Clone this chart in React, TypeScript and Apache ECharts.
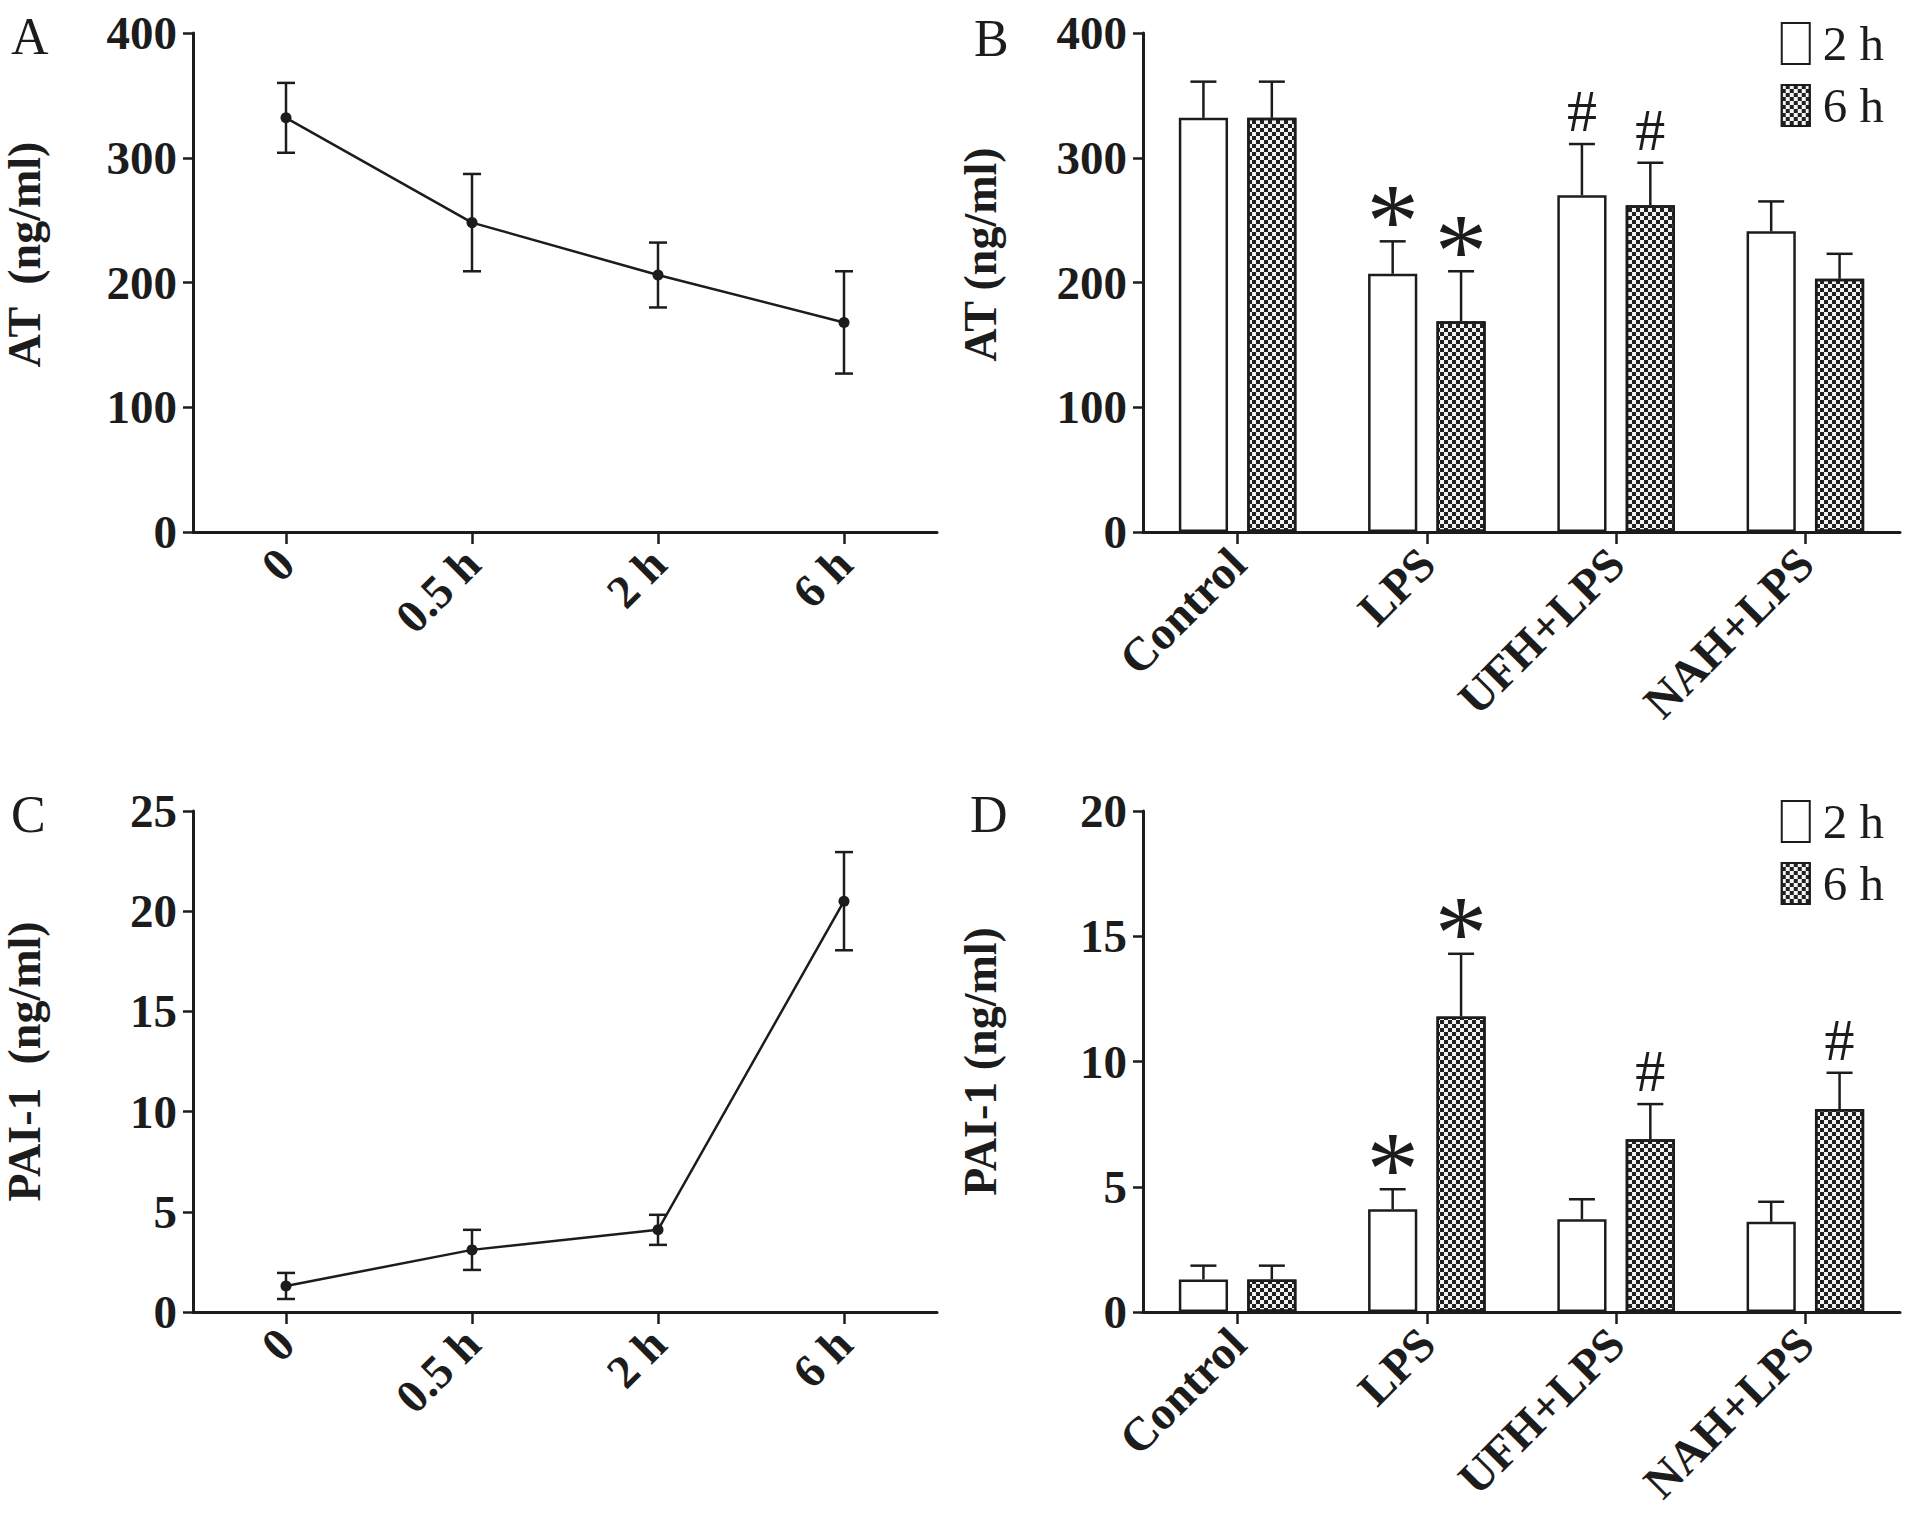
import * as echarts from "echarts";
import { useEffect, useRef } from "react";

const timePoints = ["0", "0.5 h", "2 h", "6 h"];
const groups = ["Control", "LPS", "UFH+LPS", "NAH+LPS"];

// panel A: AT over time
const atMean = [332, 248, 206, 168];
const atSd = [28, 39, 26, 41];
// panel C: PAI-1 over time
const paiMean = [1.3, 3.1, 4.1, 20.5];
const paiSd = [0.65, 1.0, 0.75, 2.45];

// panel B: AT by group
const atBar2h = [332, 207, 270, 241];
const atBar2hSd = [29, 26, 41, 24];
const atBar6h = [332, 169, 262, 203];
const atBar6hSd = [29, 40, 34, 20];
const atMarks2h = ["", "*", "#", ""];
const atMarks6h = ["", "*", "#", ""];

// panel D: PAI-1 by group
const paiBar2h = [1.3, 4.1, 3.7, 3.6];
const paiBar2hSd = [0.55, 0.8, 0.8, 0.8];
const paiBar6h = [1.3, 11.8, 6.9, 8.1];
const paiBar6hSd = [0.55, 2.5, 1.4, 1.45];
const paiMarks2h = ["", "*", "", ""];
const paiMarks6h = ["", "*", "#", "#"];

const FONT = '"Liberation Serif", "Times New Roman", serif';
const INK = "#1c1c1c";

const BAR_W = 0.26;
const BAR_GAP = 0.39;

const decal6h = {
  symbol: "rect",
  symbolSize: 1,
  color: "#202020",
  dashArrayX: [
    [4, 4],
    [0, 4, 4, 0],
  ],
  dashArrayY: [4, 0],
  rotation: 0,
};

function lineErrors(mean: number[], sd: number[], axis: number) {
  return {
    type: "custom",
    xAxisIndex: axis,
    yAxisIndex: axis,
    z: 3,
    silent: true,
    data: mean.map((m, i) => [i, m - sd[i], m + sd[i]]),
    renderItem: (_p: any, api: any) => {
      const lo = api.coord([api.value(0), api.value(1)]);
      const hi = api.coord([api.value(0), api.value(2)]);
      const x = lo[0];
      const cap = 9;
      const st = { stroke: INK, lineWidth: 2.5 };
      return {
        type: "group",
        children: [
          { type: "line", shape: { x1: x, y1: lo[1], x2: x, y2: hi[1] }, style: st },
          { type: "line", shape: { x1: x - cap, y1: lo[1], x2: x + cap, y2: lo[1] }, style: st },
          { type: "line", shape: { x1: x - cap, y1: hi[1], x2: x + cap, y2: hi[1] }, style: st },
        ],
      };
    },
  };
}

function barErrors(mean: number[], sd: number[], marks: string[], axis: number, side: number) {
  return {
    type: "custom",
    xAxisIndex: axis,
    yAxisIndex: axis,
    z: 3,
    silent: true,
    data: mean.map((m, i) => [i, m, m + sd[i]]),
    renderItem: (p: any, api: any) => {
      const base = api.coord([api.value(0), api.value(1)]);
      const top = api.coord([api.value(0), api.value(2)]);
      const band = api.size([1, 0])[0];
      const w = band * BAR_W;
      const x = base[0] + side * (w * (1 + BAR_GAP)) / 2;
      const cap = 13;
      const st = { stroke: INK, lineWidth: 2.5 };
      const mark = marks[p.dataIndex];
      const children: any[] = [
        { type: "line", shape: { x1: x, y1: base[1], x2: x, y2: top[1] }, style: st },
        { type: "line", shape: { x1: x - cap, y1: top[1], x2: x + cap, y2: top[1] }, style: st },
      ];
      if (mark === "*") {
        children.push({
          type: "text",
          x,
          y: top[1] - 20,
          style: { text: "*", fontFamily: FONT, fontSize: 105, fill: INK, align: "center", verticalAlign: "middle" },
        });
      } else if (mark === "#") {
        children.push({
          type: "text",
          x,
          y: top[1] - 3,
          style: { text: "#", fontFamily: FONT, fontSize: 60, fill: INK, align: "center", verticalAlign: "bottom" },
        });
      }
      return { type: "group", children };
    },
  };
}

function yAxis(idx: number, max: number, interval: number, name: string, gap: number, lift: number) {
  return {
    type: "value",
    gridIndex: idx,
    min: 0,
    max,
    interval,
    name,
    nameLocation: "middle",
    nameGap: gap,
    nameTextStyle: {
      fontFamily: FONT,
      fontWeight: "bold",
      fontSize: 46,
      color: INK,
      padding: [0, 0, 0, lift],
    },
    axisLine: { show: true, lineStyle: { color: INK, width: 3 } },
    axisTick: { show: true, length: 10, lineStyle: { color: INK, width: 2.5 } },
    axisLabel: { fontFamily: FONT, fontWeight: "bold", fontSize: 47, color: INK, margin: 16 },
    splitLine: { show: false },
  };
}

function xAxis(idx: number, cats: string[]) {
  return {
    type: "category",
    gridIndex: idx,
    data: cats,
    boundaryGap: true,
    axisLine: { show: true, lineStyle: { color: INK, width: 3 } },
    axisTick: { show: true, alignWithLabel: true, length: 12, lineStyle: { color: INK, width: 2.5 } },
    axisLabel: { fontFamily: FONT, fontWeight: "bold", fontSize: 47, color: INK, rotate: 45, margin: 24, interval: 0 },
    splitLine: { show: false },
  };
}

function bars(name: string, data: number[], axis: number, decal: boolean) {
  return {
    type: "bar",
    name,
    xAxisIndex: axis,
    yAxisIndex: axis,
    data,
    barWidth: `${BAR_W * 100}%`,
    barGap: `${BAR_GAP * 100}%`,
    itemStyle: decal
      ? { color: "#f2f2f2", borderColor: INK, borderWidth: 2.5, decal: decal6h }
      : { color: "#ffffff", borderColor: INK, borderWidth: 2.5 },
  };
}

function legend(top: number) {
  return {
    orient: "vertical",
    right: 24,
    top,
    icon: "rect",
    itemWidth: 28,
    itemHeight: 41,
    itemGap: 13,
    data: ["2 h", "6 h"],
    selectedMode: false,
    textStyle: { fontFamily: FONT, fontSize: 49, color: INK, padding: [0, 0, 0, 8] },
  };
}

function panelLetter(text: string, left: number, top: number) {
  return {
    type: "text",
    left,
    top,
    style: { text, fontFamily: FONT, fontSize: 52, fill: INK },
  };
}

export default function App() {
  const ref = useRef<HTMLDivElement | null>(null);

  useEffect(() => {
    if (!ref.current) return;
    const chart = echarts.init(ref.current, null, { renderer: "svg" });

    chart.setOption({
      animation: false,
      backgroundColor: "#ffffff",
      grid: [
        { left: 185, top: 33, width: 752, height: 499 },
        { left: 1143, top: 33, width: 757, height: 499 },
        { left: 185, top: 811, width: 752, height: 501 },
        { left: 1143, top: 811, width: 757, height: 501 },
      ],
      xAxis: [xAxis(0, timePoints), xAxis(1, groups), xAxis(2, timePoints), xAxis(3, groups)],
      yAxis: [
        yAxis(0, 400, 100, "AT  (ng/ml)", 146, 56),
        yAxis(1, 400, 100, "AT (ng/ml)", 140, 56),
        yAxis(2, 25, 5, "PAI-1  (ng/ml)", 146, 0),
        yAxis(3, 20, 5, "PAI-1 (ng/ml)", 140, 0),
      ],
      legend: [legend(14), legend(792)],
      graphic: [
        panelLetter("A", 11, 10),
        panelLetter("B", 974, 12),
        panelLetter("C", 11, 788),
        panelLetter("D", 970, 788),
      ],
      series: [
        {
          type: "line",
          xAxisIndex: 0,
          yAxisIndex: 0,
          data: atMean,
          symbol: "circle",
          symbolSize: 11,
          itemStyle: { color: INK },
          lineStyle: { color: INK, width: 2.5 },
        },
        lineErrors(atMean, atSd, 0),
        {
          type: "line",
          xAxisIndex: 2,
          yAxisIndex: 2,
          data: paiMean,
          symbol: "circle",
          symbolSize: 11,
          itemStyle: { color: INK },
          lineStyle: { color: INK, width: 2.5 },
        },
        lineErrors(paiMean, paiSd, 2),
        bars("2 h", atBar2h, 1, false),
        bars("6 h", atBar6h, 1, true),
        barErrors(atBar2h, atBar2hSd, atMarks2h, 1, -1),
        barErrors(atBar6h, atBar6hSd, atMarks6h, 1, 1),
        bars("2 h", paiBar2h, 3, false),
        bars("6 h", paiBar6h, 3, true),
        barErrors(paiBar2h, paiBar2hSd, paiMarks2h, 3, -1),
        barErrors(paiBar6h, paiBar6hSd, paiMarks6h, 3, 1),
      ],
    });

    return () => {
      chart.dispose();
    };
  }, []);

  return (
    <div
      ref={ref}
      style={{ position: "absolute", left: 0, top: 0, width: 1913, height: 1525 }}
    />
  );
}
